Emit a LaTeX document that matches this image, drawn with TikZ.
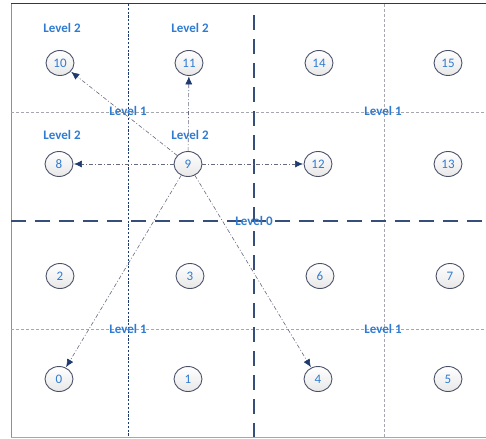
\documentclass[tikz,border=0pt]{standalone}
\usepackage{fontspec}
\setmainfont{Carlito}
\usetikzlibrary{shapes.geometric,arrows.meta,shadings}
\definecolor{navy}{HTML}{1F3A6E}
\definecolor{txtblue}{HTML}{2F7BD0}
\definecolor{gridgray}{HTML}{A6A6AE}
\definecolor{edgegray}{HTML}{4A5068}
\tikzset{
  cell/.style={ellipse, draw=edgegray, line width=0.9pt, top color=white, bottom color=gray!18,
     minimum width=28pt, minimum height=25pt, inner sep=0pt, text=txtblue, font=\fontsize{13}{15}\selectfont},
  lvl/.style={text=txtblue, font=\fontsize{13}{15}\selectfont\bfseries, inner sep=0pt},
  lone/.style={gridgray, line width=0.8pt, dash pattern=on 3pt off 2pt},
  ldot/.style={navy, line width=0.8pt, dash pattern=on 2.2pt off 1.6pt},
  lzero/.style={navy!90, line width=1.4pt, dash pattern=on 15pt off 9pt},
  link/.style={edgegray!85, line width=0.6pt, dash pattern=on 4pt off 2pt on 1pt off 2pt,
     -{Latex[length=8pt,width=7pt,fill=navy,color=navy]}, shorten >=0.5pt}
}
\begin{document}
\begin{tikzpicture}[x=1pt,y=-1pt]
\useasboundingbox (0,0) rectangle (486,438);
% frame
\coordinate (tl) at (11,4);
\coordinate (tr) at (486,4);
\coordinate (bl) at (11,437);
\coordinate (br) at (486,437);
\draw[gridgray!80!navy, line width=1pt] (tl) -- (bl);
\draw[gridgray, line width=1pt] (bl) -- (br);
\draw[navy, line width=1pt] (tl) -- (tr);
% level 1 lines
\coordinate (h1a) at (11,112); \coordinate (h1b) at (486,112);
\coordinate (h2a) at (11,329); \coordinate (h2b) at (486,329);
\coordinate (v1a) at (384,4); \coordinate (v1b) at (384,437);
\coordinate (v2a) at (128,4); \coordinate (v2b) at (128,437);
\draw[lone] (h1a) -- (h1b);
\draw[lone] (h2a) -- (h2b);
\draw[lone] (v1a) -- (v1b);
\draw[ldot] (v2a) -- (v2b);
% level 0 lines
\coordinate (z1a) at (254,15); \coordinate (z1b) at (254,437);
\coordinate (z2a) at (11,221); \coordinate (z2b) at (486,221);
\draw[lzero] (z1a) -- (z1b);
\draw[lzero] (z2a) -- (z2b);
% labels
\node[lvl] (l2a) at (62,28) {Level 2};
\node[lvl] (l2b) at (190,28) {Level 2};
\node[lvl] (l2c) at (62,135) {Level 2};
\node[lvl] (l2d) at (190,135) {Level 2};
\node[lvl] (l1a) at (128,111) {Level 1};
\node[lvl] (l1b) at (383,111) {Level 1};
\node[lvl] (l1c) at (128,329) {Level 1};
\node[lvl] (l1d) at (383,329) {Level 1};
\node[lvl] (l0) at (254,221) {Level 0};
% nodes
\node[cell] (n10) at (60,63) {10};
\node[cell] (n11) at (189,63) {11};
\node[cell] (n14) at (319,63) {14};
\node[cell] (n15) at (448,63) {15};
\node[cell] (n8) at (59,164) {8};
\node[cell] (n9) at (188,164) {9};
\node[cell] (n12) at (318,164) {12};
\node[cell] (n13) at (448,164) {13};
\node[cell] (n2) at (60,276) {2};
\node[cell] (n3) at (190,276) {3};
\node[cell] (n6) at (320,276) {6};
\node[cell] (n7) at (450,276) {7};
\node[cell] (n0) at (59,379) {0};
\node[cell] (n1) at (188,379) {1};
\node[cell] (n4) at (318,379) {4};
\node[cell] (n5) at (448,379) {5};
% links
\draw[link] (n9) -- (n10);
\draw[link] (n9) -- (n11);
\draw[link] (n9) -- (n8);
\draw[link] (n9) -- (n12);
\draw[link] (n9) -- (n0);
\draw[link] (n9) -- (n4);
\end{tikzpicture}
\end{document}
